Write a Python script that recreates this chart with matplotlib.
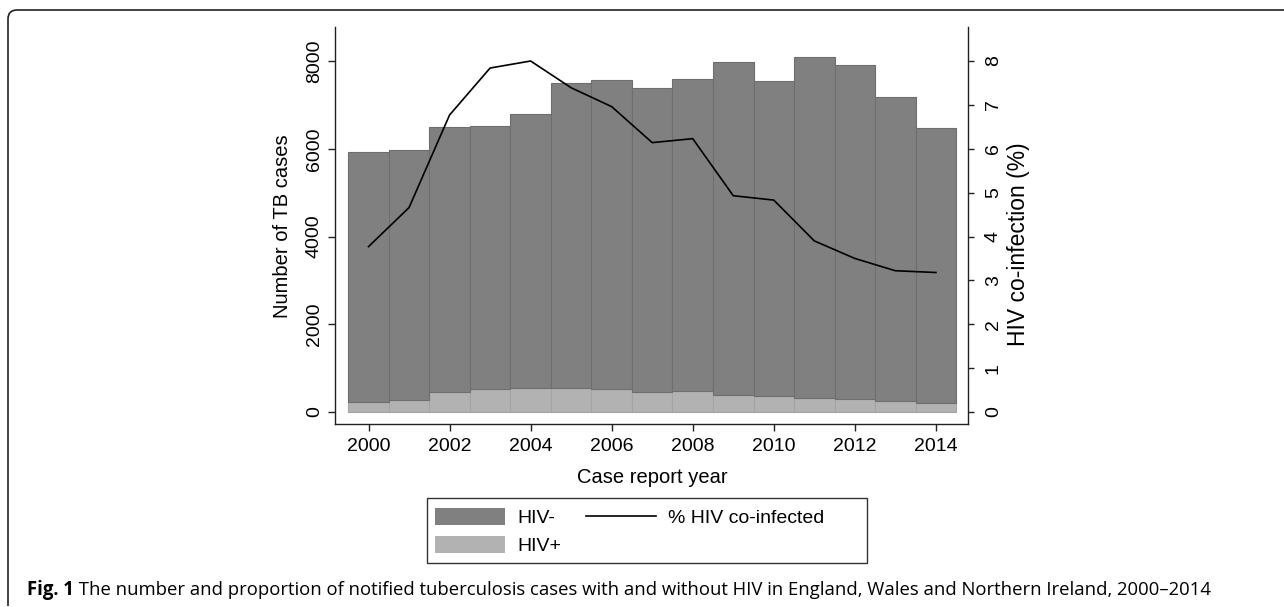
import matplotlib
matplotlib.use("Agg")
import matplotlib.pyplot as plt
from matplotlib.path import Path
from matplotlib.patches import PathPatch, Rectangle, Patch
from matplotlib.lines import Line2D

# ---- data ----
years = [2000, 2001, 2002, 2003, 2004, 2005, 2006, 2007, 2008, 2009, 2010, 2011, 2012, 2013, 2014]
hiv_pos = [228, 280, 447, 524, 547, 554, 531, 456, 470, 394, 365, 319, 287, 242, 212]
total_cases = [5926, 5971, 6495, 6509, 6783, 7489, 7558, 7375, 7580, 7977, 7535, 8082, 7900, 7170, 6464]
pct_coinfected = [3.77, 4.66, 6.77, 7.84, 8.00, 7.39, 6.96, 6.14, 6.23, 4.93, 4.83, 3.90, 3.50, 3.22, 3.18]
hiv_neg = [t - p for t, p in zip(total_cases, hiv_pos)]
left_ticks = [0, 2000, 4000, 6000, 8000]
right_ticks = [0, 1, 2, 3, 4, 5, 6, 7, 8]
x_ticks = [2000, 2002, 2004, 2006, 2008, 2010, 2012, 2014]

W, H = 1284, 607
plt.rcParams['font.family'] = ['Liberation Sans', 'DejaVu Sans']
fig = plt.figure(figsize=(W / 100, H / 100), dpi=100)

def fx(px):
    return px / W

def fy(py):
    return 1 - py / H

ax_l, ax_r, ax_t, ax_b = 335.3, 968.3, 27, 424
ax = fig.add_axes([fx(ax_l), fy(ax_b), fx(ax_r - ax_l), (ax_b - ax_t) / H])

c_neg = '#808080'
c_pos = '#b2b2b2'
ax.bar(years, hiv_pos, width=1.0, color=c_pos, edgecolor='#a4a4a4', linewidth=0.8, zorder=2)
ax.bar(years, hiv_neg, width=1.0, bottom=hiv_pos, color=c_neg, edgecolor='#6e6e6e',
       linewidth=0.8, zorder=2)

ylo, yhi = -273, 8775
ax.set_ylim(ylo, yhi)
ax.set_xlim(1999.18, 2014.8)
ax.set_xticks(x_ticks)
ax.set_yticks(left_ticks)
for s in ['top', 'right']:
    ax.spines[s].set_visible(False)
for s in ['left', 'bottom']:
    ax.spines[s].set_linewidth(1.0)
    ax.spines[s].set_color('#222222')
ax.tick_params(axis='both', direction='out', length=5, width=1.0, color='#222222',
               labelsize=14)
ax.tick_params(axis='x', pad=5)
ax.tick_params(axis='y', pad=4, labelrotation=90)
for t in ax.get_yticklabels():
    t.set_va('center')

ax2 = ax.twinx()
ax2.plot(years, pct_coinfected, color='black', linewidth=1.2, zorder=3)
ax2.set_ylim(ylo / 1000, yhi / 1000)
ax2.set_yticks(right_ticks)
for s in ['top', 'left', 'bottom']:
    ax2.spines[s].set_visible(False)
ax2.spines['right'].set_linewidth(1.0)
ax2.spines['right'].set_color('#222222')
ax2.tick_params(axis='y', direction='out', length=4, width=1.0, color='#222222',
                labelsize=14, pad=8, labelrotation=90)
for t in ax2.get_yticklabels():
    t.set_va('center')

# axis titles
fig.text(fx(282), fy(226), 'Number of TB cases', rotation=90, ha='center', va='center',
         fontsize=14.5)
fig.text(fx(1019), fy(244), 'HIV co-infection (%)', rotation=90, ha='center', va='center',
         fontsize=16.5)
fig.text(fx(652), fy(483), 'Case report year', ha='center', va='baseline', fontsize=14.5)

# legend
handles = [Patch(facecolor=c_neg, edgecolor='none'),
           Patch(facecolor=c_pos, edgecolor='none'),
           Line2D([0], [0], color='black', linewidth=1.2)]
labels = ['HIV-', 'HIV+', '% HIV co-infected']
leg = fig.legend(handles, labels, ncol=2, loc='upper left',
                 bbox_to_anchor=(fx(435), fy(508)), frameon=False, fontsize=14,
                 handlelength=3.6, handleheight=1.0, handletextpad=0.62,
                 labelspacing=0.42, columnspacing=1.3, borderpad=0, borderaxespad=0)
fig.patches.append(Rectangle((fx(427), fy(563)), fx(866.7 - 427), (563 - 498) / H,
                             transform=fig.transFigure, fill=False, edgecolor='#333333',
                             linewidth=1.0))

# caption
fig.canvas.draw()
r = fig.canvas.get_renderer()
cap_font = ['Open Sans', 'DejaVu Sans']
rest = ' The number and proportion of notified tuberculosis cases with and without HIV in England, Wales and Northern Ireland, 2000\u20132014'
fs = 12.0
t1 = fig.text(fx(27), fy(595), 'Fig. 1', fontsize=fs, fontweight='bold', family=cap_font,
              va='baseline', ha='left')
t2 = fig.text(0, fy(595), rest, fontsize=fs, family=cap_font, va='baseline', ha='left')
e1 = t1.get_window_extent(r)
e2 = t2.get_window_extent(r)
total = e1.width + e2.width
scale = (1208 - 27) / total
fs2 = fs * scale
t1.set_fontsize(fs2)
t2.set_fontsize(fs2)
e1 = t1.get_window_extent(r)
t2.set_x(fx(e1.x1))

# frame (rounded top-left corner)
verts = [(fx(8), fy(606)), (fx(8), fy(19)), (fx(8), fy(10)), (fx(17), fy(10)), (fx(1284), fy(10))]
codes = [Path.MOVETO, Path.LINETO, Path.CURVE3, Path.CURVE3, Path.LINETO]
fig.patches.append(PathPatch(Path(verts, codes), transform=fig.transFigure, fill=False,
                             edgecolor='#222222', linewidth=1.2))

fig.savefig('out.png', dpi=100)
